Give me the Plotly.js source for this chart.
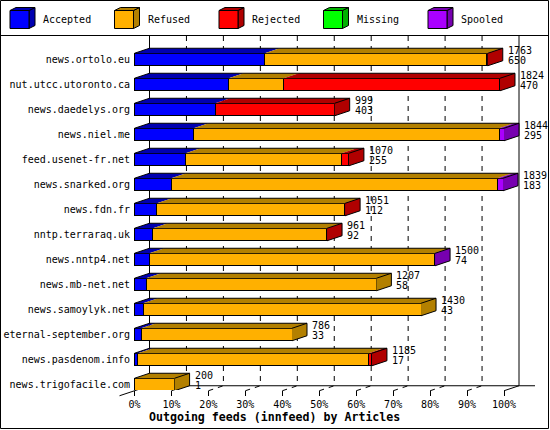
<!DOCTYPE html>
<html><head><meta charset="utf-8">
<script src="https://cdn.plot.ly/plotly-3.0.1.min.js"></script>
<style>html,body{margin:0;padding:0;background:#fff}#chart{width:550px;height:430px}</style>
</head><body><div id="chart"></div>
<script>
const hosts = ['news.ortolo.eu','nut.utcc.utoronto.ca','news.daedelys.org','news.niel.me','feed.usenet-fr.net','news.snarked.org','news.fdn.fr','nntp.terraraq.uk','news.nntp4.net','news.mb-net.net','news.samoylyk.net','eternal-september.org','news.pasdenom.info','news.trigofacile.com'];
const totals   = [1763,1824,999,1844,1070,1839,1051,961,1500,1207,1430,786,1185,200];
const accepted = [650,470,403,295,255,183,112,92,74,58,43,33,17,1];
const refused  = [1108,275,0,1525,779,1627,935,867,1422,1149,1387,753,1152,199];
const rejected = [5,1079,596,0,36,4,4,2,0,0,0,0,16,0];
const missing  = [0,0,0,0,0,0,0,0,0,0,0,0,0,0];
const spooled  = [0,0,0,24,0,25,0,0,4,0,0,0,0,0];
const seriesNames = ['Accepted','Refused','Rejected','Missing','Spooled'];
const tickPct = [0,10,20,30,40,50,60,70,80,90,100];

const frontColors = ['#0000ff','#ffb000','#ff0000','#00ff00','#aa00ff'];
const sideColors  = ['#0000b0','#b38000','#b00000','#00b000','#7700b0'];
const FONT = 'DejaVu Sans Mono';

const W=550,H=430,L=118,R=10,T=36,B=40;
const PW=W-L-R, PH=H-T-B;
const pxPerPct=3.695, x0px=134.5, rowPx=25, row0px=59.5;
const xr=[(L-x0px)/pxPerPct,(W-R-x0px)/pxPerPct];
const yr=[(H-B-row0px)/rowPx,(T-row0px)/rowPx];
const dx=15/pxPerPct, dy=5/rowPx, half=0.25;

const series=[accepted,refused,rejected,missing,spooled];
const maxTotal=Math.max(...totals);
const pct=v=>v/maxTotal*100;
const rows=hosts.map((h,i)=>i);

const X=x=>(x-xr[0])/(xr[1]-xr[0]);
const Y=y=>(yr[0]-y)/(yr[0]-yr[1]);
const PX=px=>(px-L)/PW;
const PY=py=>(H-B-py)/PH;

const traces=[];
series.forEach((s,k)=>{
  traces.push({type:'bar',orientation:'h',y:rows,x:s.map(pct),width:0.5,
    marker:{color:frontColors[k],line:{color:'#000',width:1}},
    name:seriesNames[k],showlegend:false,hoverinfo:'skip'});
});

const fillX=series.map(()=>[]), fillY=series.map(()=>[]);
const olX=[], olY=[];
rows.forEach(i=>{
  let c=0,lastK=-1;
  series.forEach((s,k)=>{
    const v=pct(s[i]);
    if(s[i]>0){
      fillX[k].push(c,c+v,c+v+dx,c+dx,c,null);
      fillY[k].push(i-half,i-half,i-half-dy,i-half-dy,i-half,null);
      lastK=k;
    }
    c+=v;
  });
  if(lastK>=0){
    fillX[lastK].push(c,c+dx,c+dx,c,c,null);
    fillY[lastK].push(i-half,i-half-dy,i+half-dy,i+half,i-half,null);
  }
  olX.push(0,dx,c+dx,c,null, c+dx,c+dx,c,null);
  olY.push(i-half,i-half-dy,i-half-dy,i-half,null, i-half-dy,i+half-dy,i+half,null);
});
series.forEach((s,k)=>{
  if(fillX[k].length) traces.push({type:'scatter',mode:'lines',x:fillX[k],y:fillY[k],fill:'toself',
    fillcolor:sideColors[k],line:{width:0,color:sideColors[k]},showlegend:false,hoverinfo:'skip'});
});
traces.push({type:'scatter',mode:'lines',x:olX,y:olY,line:{color:'#000',width:1},showlegend:false,hoverinfo:'skip'});

const floorFront=hosts.length-1+half, floorBack=floorFront-dy;
const shapes=[];
const ln=(x0,y0,x1,y1,dash,layer)=>shapes.push({type:'line',xref:'paper',yref:'paper',x0,y0,x1,y1,
  line:{color:'#000',width:1,dash:dash||'solid'},layer:layer||'below'});
tickPct.forEach(p=>{
  const isEdge=(p===0||p===100);
  ln(X(p+dx),PY(T),X(p+dx),Y(floorBack),isEdge?'solid':'5px,5px');
  if(p===0) ln(X(dx),Y(floorBack),X(-dx),Y(floorFront+dy));
  else ln(X(p),Y(floorFront),X(p+dx),Y(floorBack),p===100?'solid':'5px,5px');
});
ln(X(dx),Y(floorBack),X(100+dx+16/pxPerPct),Y(floorBack));
// frame and legend separator
shapes.push({type:'rect',xref:'paper',yref:'paper',x0:PX(0.5),x1:PX(548.5),y0:PY(428.5),y1:PY(0.5),line:{color:'#000',width:1},layer:'above'});
ln(PX(0.5),PY(35.5),PX(548.5),PY(35.5),'solid','above');

const annotations=[];
// legend cubes
seriesNames.forEach((n,k)=>{
  const x0=10+104.5*k, fw=19, ft=10.5, fb=28.5, cd=6, ch=3;
  const P=(pts)=>'M'+pts.map(p=>PX(p[0])+','+PY(p[1])).join(' L')+' Z';
  shapes.push({type:'path',xref:'paper',yref:'paper',path:P([[x0+fw,ft],[x0+fw+cd,ft-ch],[x0+fw+cd,fb-ch],[x0+fw,fb]]),
    fillcolor:sideColors[k],line:{color:'#000',width:1},layer:'above'});
  shapes.push({type:'path',xref:'paper',yref:'paper',path:P([[x0,ft],[x0+cd,ft-ch],[x0+fw+cd,ft-ch],[x0+fw,ft]]),
    fillcolor:sideColors[k],line:{color:'#000',width:1},layer:'above'});
  shapes.push({type:'rect',xref:'paper',yref:'paper',x0:PX(x0),x1:PX(x0+fw),y0:PY(fb),y1:PY(ft),
    fillcolor:frontColors[k],line:{color:'#000',width:1},layer:'above'});
  annotations.push({xref:'paper',yref:'paper',x:PX(x0+31),y:PY(20),text:n,showarrow:false,
    xanchor:'left',yanchor:'middle',font:{family:FONT,size:10,color:'#000'}});
});
// value labels
rows.forEach(i=>{
  const xe=pct(totals[i])+dx;
  annotations.push({x:xe,y:i,text:String(totals[i]),showarrow:false,xanchor:'left',yanchor:'middle',
    xshift:3,yshift:9.5,font:{family:FONT,size:10,color:'#000'}});
  annotations.push({x:xe,y:i,text:String(accepted[i]),showarrow:false,xanchor:'left',yanchor:'middle',
    xshift:3,yshift:-1,font:{family:FONT,size:10,color:'#000'}});
});
annotations.push({xref:'paper',yref:'paper',x:PX(274.5),y:PY(416.5),text:'<b>Outgoing feeds (innfeed) by Articles</b>',
  showarrow:false,xanchor:'center',yanchor:'middle',font:{family:FONT,size:11.6,color:'#000'}});

const layout={
  width:W,height:H,margin:{l:L,r:R,t:T,b:B,pad:0},
  paper_bgcolor:'#fff',plot_bgcolor:'rgba(0,0,0,0)',
  barmode:'stack',bargap:0,showlegend:false,
  xaxis:{range:xr,tickvals:tickPct,ticktext:tickPct.map(p=>p+'%'),ticks:'outside',ticklen:5,tickcolor:'#000',tickwidth:1,
    showgrid:false,zeroline:false,showline:false,tickfont:{family:FONT,size:10,color:'#000'},fixedrange:true},
  yaxis:{range:yr,tickvals:rows,ticktext:hosts,ticks:'',showgrid:false,zeroline:false,showline:false,
    ticklabelstandoff:-13,tickfont:{family:FONT,size:10,color:'#000'},fixedrange:true},
  shapes,annotations
};
Plotly.newPlot('chart',traces,layout,{staticPlot:true,displayModeBar:false});
</script></body></html>
